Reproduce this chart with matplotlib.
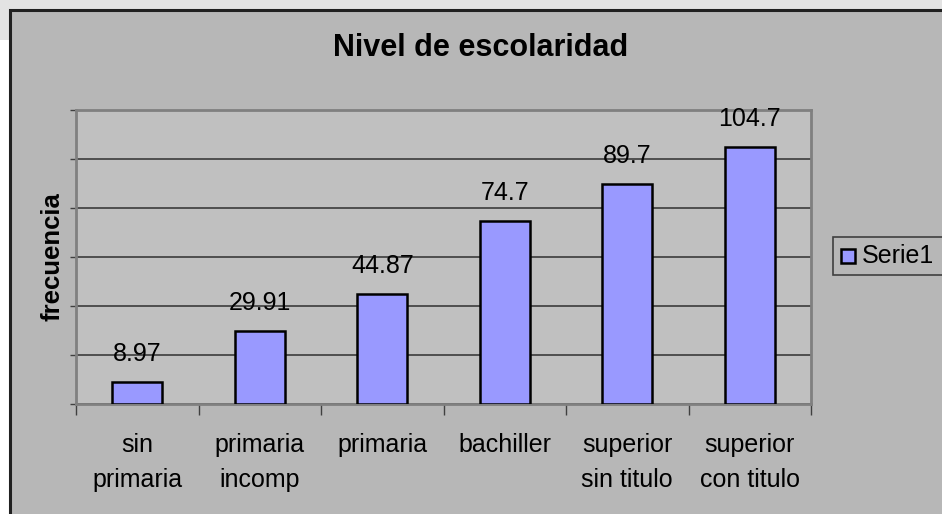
import matplotlib
matplotlib.use("Agg")
import matplotlib.pyplot as plt
from matplotlib.patches import Rectangle
import numpy as np

categories = ["sin\nprimaria", "primaria\nincomp", "primaria", "bachiller",
              "superior\nsin titulo", "superior\ncon titulo"]
values = [8.97, 29.91, 44.87, 74.7, 89.7, 104.7]
value_labels = ["8.97", "29.91", "44.87", "74.7", "89.7", "104.7"]
series_name = "Serie1"
title = "Nivel de escolaridad"
ylabel = "frecuencia"

plt.rcParams['font.family'] = ['Liberation Sans', 'DejaVu Sans']

W, H = 942, 514
fig = plt.figure(figsize=(W / 100, H / 100), dpi=100)
fig.patch.set_facecolor("white")

def fx(px):
    return px / W

def fy(py):
    return 1 - py / H

# light gray strip at top-left
fig.patches.append(Rectangle((0, fy(40)), 1, 40 / H, transform=fig.transFigure,
                             facecolor="#E3E3E3", edgecolor="none", zorder=-3))
# chart area
fig.patches.append(Rectangle((fx(10), -0.05), 1.1, fy(10) + 0.05, transform=fig.transFigure,
                             facecolor="#B7B7B7", edgecolor="#202020", linewidth=2.2, zorder=-2))

ax = fig.add_axes([fx(76), fy(404), fx(811 - 76), (404 - 110) / H])
ax.set_zorder(2)
ax.set_facecolor("#C0C0C0")
x = np.arange(len(categories))
bar_color = "#9999FF"
bars = ax.bar(x, values, width=0.41, color=bar_color, edgecolor="black",
              linewidth=1.8, label=series_name, zorder=3)
ax.set_xlim(-0.5, len(categories) - 0.5)
ax.set_ylim(0, 120)
ax.set_yticks(np.arange(0, 121, 20))
ax.set_yticklabels([])
ax.yaxis.grid(True, color="#303030", linewidth=1.1)
ax.set_axisbelow(True)
ax.tick_params(axis="y", direction="out", length=4, color="#404040", width=1)

ax.set_xticks(x)
ax.set_xticklabels(categories, fontsize=18, linespacing=1.55)
ax.tick_params(axis="x", which="major", length=0, pad=21)
ax.set_xticks(np.arange(-0.5, len(categories), 1), minor=True)
ax.tick_params(axis="x", which="minor", direction="out", length=8, color="#404040", width=1)

for s in ax.spines.values():
    s.set_color("#808080")
    s.set_linewidth(2)

for xi, v, lab in zip(x, values, value_labels):
    ax.annotate(lab, (xi, v), xytext=(0, 28), textcoords="offset pixels",
                ha="center", va="center", fontsize=18, zorder=5)

fig.text(fx(481), fy(48), title, ha="center", va="center", fontsize=22, fontweight="bold")
fig.text(fx(53), fy(257), ylabel, ha="center", va="center", rotation=90,
         fontsize=18.5, fontweight="bold")

# legend (Excel-style box, running off the right edge)
fig.patches.append(Rectangle((fx(833), fy(275)), fx(130), 38 / H, transform=fig.transFigure,
                             facecolor="#B7B7B7", edgecolor="#404040", linewidth=1.2, zorder=5))
fig.patches.append(Rectangle((fx(841), fy(263)), fx(14), 14 / H, transform=fig.transFigure,
                             facecolor=bar_color, edgecolor="black", linewidth=1.8, zorder=6))
fig.text(fx(862), fy(256), series_name, ha="left", va="center", fontsize=18, zorder=7)

fig.savefig("out.png", dpi=100)
